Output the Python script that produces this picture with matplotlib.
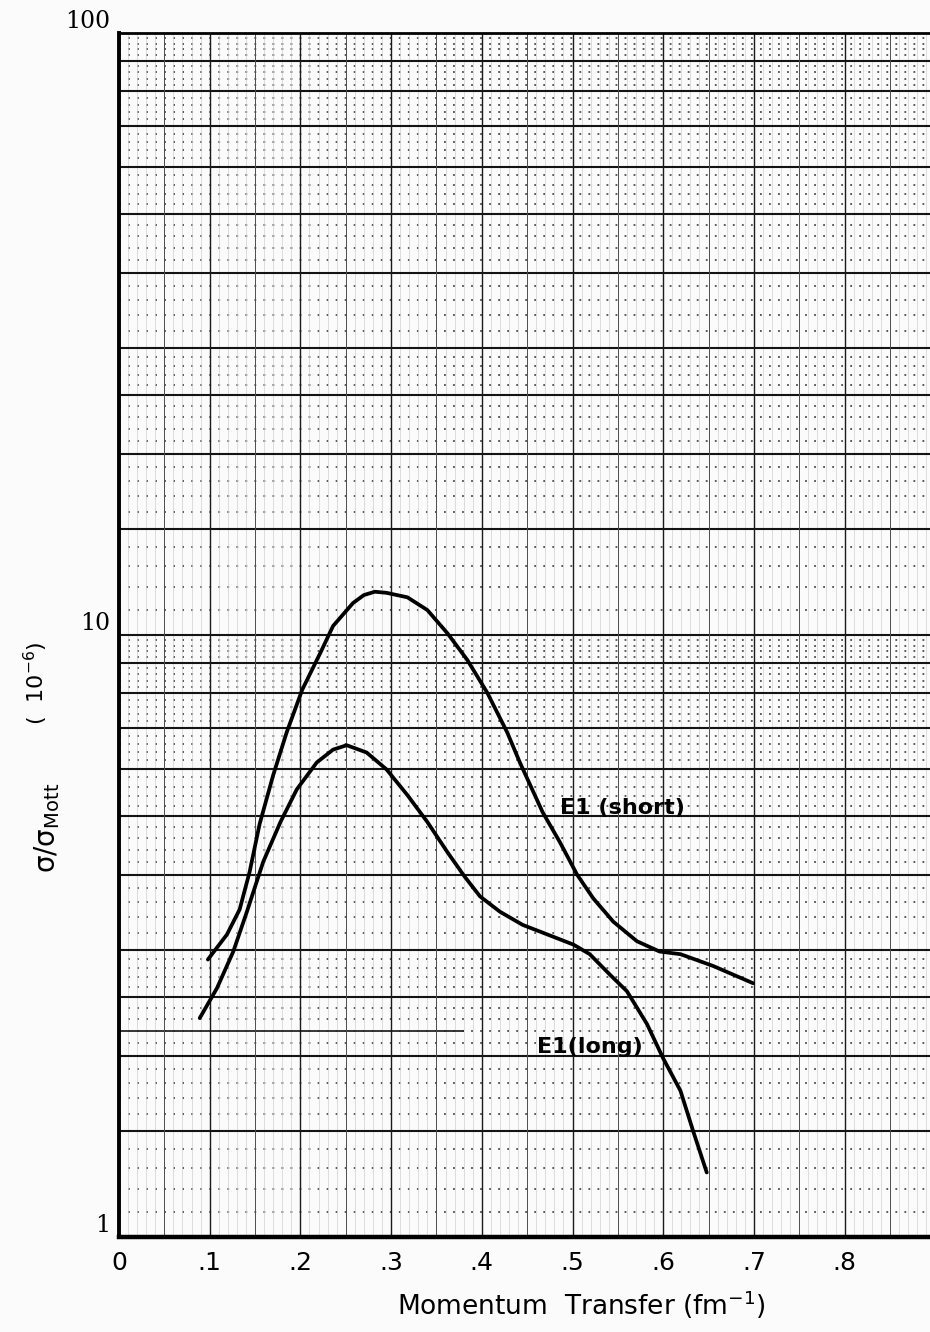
import matplotlib
matplotlib.use("Agg")
import matplotlib.pyplot as plt
import numpy as np

# E1 (short) curve
q_short = [0.098, 0.119, 0.133, 0.144, 0.155, 0.170, 0.185, 0.202, 0.222, 0.236,
           0.258, 0.270, 0.282, 0.295, 0.318, 0.340, 0.362, 0.384, 0.406, 0.428, 0.442,
           0.467, 0.486, 0.505, 0.523, 0.545, 0.571, 0.596, 0.619, 0.655, 0.699]
r_short = [2.89, 3.18, 3.50, 4.04, 4.85, 5.85, 6.90, 8.11, 9.34, 10.35,
           11.3, 11.65, 11.8, 11.75, 11.55, 11.0, 10.07, 9.09, 8.02, 6.89, 6.14,
           5.08, 4.53, 4.00, 3.65, 3.34, 3.10, 2.98, 2.95, 2.82, 2.64]

# E1 (long) curve
q_long = [0.089, 0.108, 0.126, 0.141, 0.159, 0.178, 0.196, 0.218, 0.236, 0.251,
          0.273, 0.295, 0.318, 0.340, 0.362, 0.381, 0.398, 0.420, 0.445, 0.501, 0.519,
          0.541, 0.560, 0.582, 0.600, 0.619, 0.633, 0.648]
r_long = [2.31, 2.59, 2.98, 3.47, 4.20, 4.89, 5.54, 6.14, 6.45, 6.56,
          6.38, 5.98, 5.42, 4.89, 4.36, 3.97, 3.68, 3.47, 3.30, 3.06, 2.95,
          2.73, 2.56, 2.26, 1.98, 1.75, 1.50, 1.28]

x_ticks = [0, 0.1, 0.2, 0.3, 0.4, 0.5, 0.6, 0.7, 0.8]
x_labels = ["0", ".1", ".2", ".3", ".4", ".5", ".6", ".7", ".8"]
y_ticks = [1, 10, 100]
y_labels = ["1", "10", "100"]

# graph paper rulings
major_h = [1, 1.5, 2, 2.5, 3, 4, 5, 6, 7, 8, 9, 10, 15, 20, 25, 30, 40, 50, 60, 70, 80, 90, 100]

narrow = ["Liberation Sans Narrow", "DejaVu Sans"]

fig = plt.figure(figsize=(9.3, 13.32), dpi=100, facecolor="#fbfbfb")
ax = fig.add_axes([119/930, 95/1332, 811/930, 1204/1332])
ax.set_facecolor("#fbfbfb")
ax.set_yscale("log")
ax.set_xlim(0, 811/907)
ax.set_ylim(1, 100)

# horizontal rulings
for a, b in zip(major_h[:-1], major_h[1:]):
    for k in range(1, 5):
        ax.axhline(a + (b - a)*k/5, color="0.3", lw=1.3, ls=(0, (1, 4)), zorder=1)
for v in major_h[1:-1]:
    ax.axhline(v, color="0.08", lw=1.5, zorder=2)
ax.hlines(2.2, 0, 0.38, color="0.15", lw=1.3, zorder=2)

# vertical rulings
xs = np.arange(0, 0.9, 0.01)
for i, x in enumerate(xs):
    if i % 10 == 0:
        ax.axvline(x, color="0.1", lw=1.0, zorder=2)
    elif i % 5 == 0:
        ax.axvline(x, color="0.3", lw=0.7, zorder=2)
    else:
        ax.axvline(x, color="0.82", lw=0.5, zorder=1)

ax.plot(q_short, r_short, color="black", lw=2.7, solid_capstyle="round",
        solid_joinstyle="round", zorder=5)
ax.plot(q_long, r_long, color="black", lw=2.7, solid_capstyle="round",
        solid_joinstyle="round", zorder=5)

ax.text(0.486, 5.05, "E1 (short)", family=narrow, fontsize=16, fontweight="bold",
        ha="left", va="baseline", zorder=6)
ax.text(0.461, 2.02, "E1(long)", family=narrow, fontsize=16, fontweight="bold",
        ha="left", va="baseline", zorder=6)

ax.minorticks_off()
ax.set_xticks(x_ticks)
ax.set_xticklabels(x_labels, family=narrow, fontsize=18)
ax.set_yticks(y_ticks)
ax.set_yticklabels(y_labels, family="DejaVu Serif", fontsize=17)
for lab in ax.get_yticklabels():
    lab.set_va("bottom")
ax.tick_params(axis="both", length=0)
ax.tick_params(axis="x", pad=10)
ax.tick_params(axis="y", pad=6)

ax.spines["right"].set_visible(False)
ax.spines["left"].set_linewidth(2.8)
ax.spines["bottom"].set_linewidth(3.2)
ax.spines["top"].set_linewidth(2.0)

fig.text(581/930, 1 - 1315/1332, "Momentum  Transfer (fm$^{-1}$)", family=narrow,
         fontsize=19, ha="center", va="baseline")
fig.text(47/930, 1 - 828/1332, "σ/σ$_{\\mathsf{Mott}}$", fontsize=20,
         rotation=90, ha="center", va="center")
fig.text(36/930, 1 - 683/1332, "(  10$^{-6}$)", fontsize=16,
         rotation=90, ha="center", va="center")

fig.savefig("out.png", dpi=100, facecolor=fig.get_facecolor())
